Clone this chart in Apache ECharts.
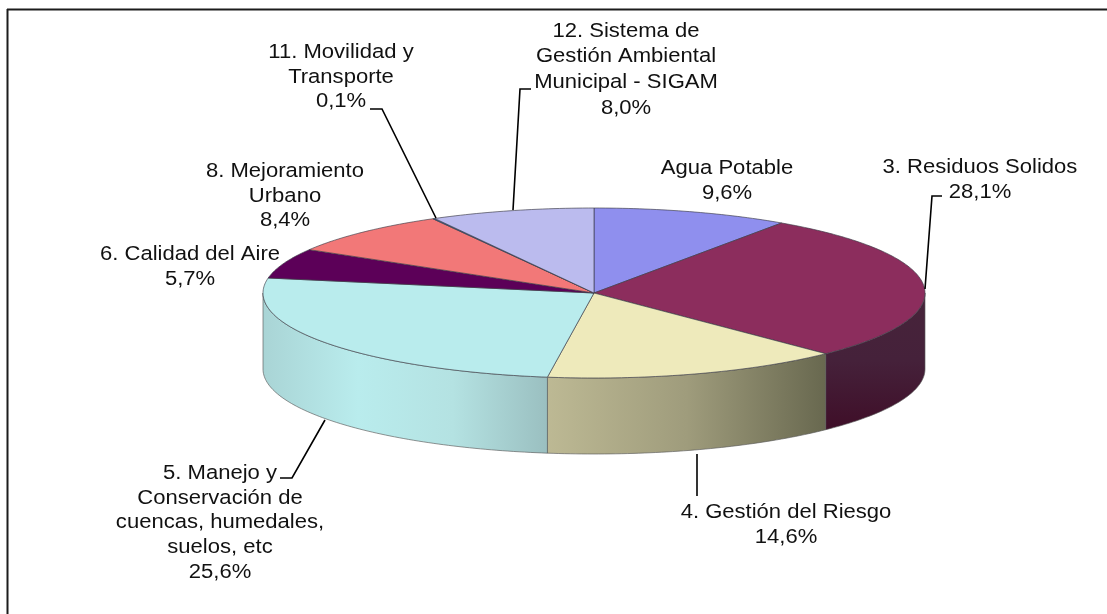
<!DOCTYPE html>
<html>
<head>
<meta charset="utf-8">
<title>Distribución por temas</title>
<style>
  html, body { margin: 0; padding: 0; background: #fff; }
  #main { width: 1107px; height: 614px; }
</style>
<script src="https://cdn.jsdelivr.net/npm/echarts@6/dist/echarts.min.js"></script>
</head>
<body>
<div id="main"></div>
<script>
// datos
var categories = [
  'Agua Potable',
  '3. Residuos Solidos',
  '4. Gestión del Riesgo',
  '5. Manejo y\nConservación de\ncuencas, humedales,\nsuelos, etc',
  '6. Calidad del Aire',
  '8. Mejoramiento\nUrbano',
  '11. Movilidad y\nTransporte',
  '12. Sistema de\nGestión Ambiental\nMunicipal - SIGAM'
];
var values = [9.6, 28.1, 14.6, 25.6, 5.7, 8.4, 0.1, 8.0];
var colors = ['#8f8fee', '#8c2d5d', '#eeeabb', '#b9eced', '#5c0058', '#f27878', '#2f6fb5', '#bbbbee'];

// colores de la pared lateral (solo las rebanadas de delante)
var sideStops = {
  1: { vertical: true, stops: ['#47243a', '#45213a', '#3f0e28'] },
  2: { vertical: false, stops: ['#bdb994', '#9f9c7c', '#68684f'] },
  3: { vertical: false, stops: ['#a9d4d5', '#b9eced', '#b4e2e2', '#9abfc0'] }
};

// geometria de la elipse
var cx = 594, cy = 293, rx = 331, ry = 85, depth = 76;

// posicion de cada etiqueta (centro de la primera linea)
var labelLayout = [
  [727, 168], [980, 167], [786, 512], [220, 473], [190, 254], [285, 171], [341, 52], [626, 30]
];
// lineas guia
var leaders = {
  1: [[942, 196], [932, 196], [925, 289]],
  2: [[697, 454], [697, 496]],
  3: [[280, 478], [292, 478], [325, 420]],
  6: [[370, 109], [382, 109], [436, 218]],
  7: [[531, 89], [520, 89], [513, 210]]
};

var total = values.reduce(function (a, b) { return a + b; }, 0);
var starts = [];
values.reduce(function (acc, v, i) { starts[i] = acc; return acc + v; }, 0);
var data = values.map(function (v, i) { return [v, starts[i]]; });

function pt(deg, dy) {
  var r = deg * Math.PI / 180;
  return [cx + rx * Math.sin(r), cy - ry * Math.cos(r) + (dy || 0)];
}
function arc(a0, a1, dy) {
  var n = Math.max(2, Math.ceil(Math.abs(a1 - a0)));
  var out = [];
  for (var i = 0; i <= n; i++) out.push(pt(a0 + (a1 - a0) * i / n, dy));
  return out;
}
function sliceAngles(api) {
  var a0 = api.value(1) / total * 360;
  return [a0, a0 + api.value(0) / total * 360];
}

function renderSide(params, api) {
  var a = sliceAngles(api);
  var from = Math.max(a[0], 90), to = Math.min(a[1], 270);
  var cfg = sideStops[params.dataIndex];
  if (to <= from || !cfg) return { type: 'group', children: [] };
  var pts = arc(from, to, 0).concat(arc(to, from, depth));
  return {
    type: 'polygon',
    shape: { points: pts },
    style: {
      fill: new echarts.graphic.LinearGradient(0, 0, cfg.vertical ? 0 : 1, cfg.vertical ? 1 : 0,
        cfg.stops.map(function (c, i) { return { offset: i / (cfg.stops.length - 1), color: c }; })),
      stroke: 'rgba(90,90,90,0.65)',
      lineWidth: 1
    }
  };
}

function renderTop(params, api) {
  var a = sliceAngles(api);
  return {
    type: 'polygon',
    shape: { points: [[cx, cy]].concat(arc(a[0], a[1], 0)) },
    style: { fill: colors[params.dataIndex], stroke: 'rgba(60,60,70,0.65)', lineWidth: 1 }
  };
}

function renderLabel(params, api) {
  var i = params.dataIndex;
  var children = [{
    type: 'text',
    x: labelLayout[i][0],
    y: labelLayout[i][1] - 12,
    scaleX: 1.075, // en el original el texto sale algo estirado
    style: {
      x: 0,
      y: 0,
      text: categories[i] + '\n' + api.value(0).toFixed(1).replace('.', ',') + '%',
      font: '20.5px "Liberation Sans", Arial, sans-serif',
      fill: '#111',
      align: 'center',
      verticalAlign: 'top',
      lineHeight: i === 7 ? 25.7 : 24.7
    }
  }];
  if (leaders[i]) {
    children.push({
      type: 'polyline',
      shape: { points: leaders[i] },
      style: { fill: null, stroke: '#000', lineWidth: 1.6 }
    });
  }
  return { type: 'group', children: children };
}

var myChart = echarts.init(document.getElementById('main'));
myChart.setOption({
  animation: false,
  backgroundColor: '#fff',
  graphic: [
    { type: 'line', z: 0, shape: { x1: 7, y1: 9.5, x2: 1107, y2: 9.5 }, style: { stroke: '#1c1c1c', lineWidth: 2 } },
    { type: 'line', z: 0, shape: { x1: 7.5, y1: 9, x2: 7.5, y2: 614 }, style: { stroke: '#1c1c1c', lineWidth: 2 } }
  ],
  series: [
    { type: 'custom', coordinateSystem: 'none', z: 1, silent: true, renderItem: renderSide, data: data },
    { type: 'custom', coordinateSystem: 'none', z: 2, silent: true, renderItem: renderTop, data: data },
    { type: 'custom', coordinateSystem: 'none', z: 3, silent: true, renderItem: renderLabel, data: data }
  ]
});
</script>
</body>
</html>
